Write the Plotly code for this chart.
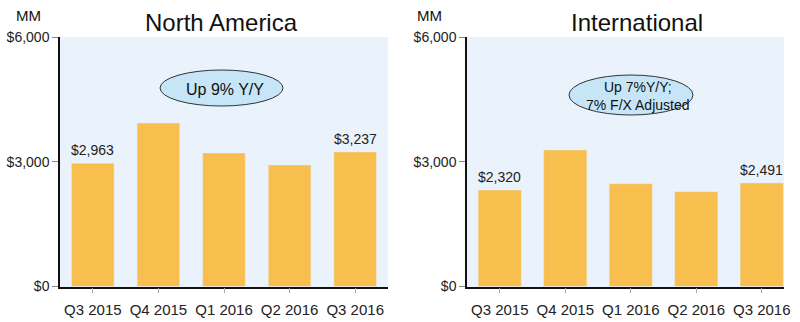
import plotly.graph_objects as go

quarters = ["Q3 2015", "Q4 2015", "Q1 2016", "Q2 2016", "Q3 2016"]
north_america = [2963, 3932, 3210, 2922, 3237]
international = [2320, 3283, 2472, 2280, 2491]
labelled = [0, 4]  # quarters whose values are printed above the bar
y_ticks = [0, 3000, 6000]
y_tick_text = ["$0", "$3,000", "$6,000"]

BAR = "#F8BF4F"
BG = "#EAF2FC"
FONT = "Liberation Sans, Arial, sans-serif"
W, H = 800, 322

fig = go.Figure()
fig.add_trace(go.Bar(x=quarters, y=north_america, marker_color=BAR, width=0.65,
                     xaxis="x", yaxis="y", hoverinfo="skip"))
fig.add_trace(go.Bar(x=quarters, y=international, marker_color=BAR, width=0.66,
                     xaxis="x2", yaxis="y2", hoverinfo="skip"))

ydom = [1 - 286.5 / H, 1 - 37 / H]
common_y = dict(range=[0, 6000], tickvals=y_ticks, ticktext=y_tick_text,
                showgrid=False, zeroline=False, showline=True, linecolor="#111",
                linewidth=1.5, ticks="outside", ticklen=6, tickcolor="#888",
                tickfont=dict(size=14, color="#222", family=FONT), domain=ydom,
                fixedrange=True, automargin=False)
common_x = dict(type="category", showgrid=False, showline=True, linecolor="#111",
                linewidth=1.5, ticks="outside", ticklen=5, tickcolor="#aaa",
                tickfont=dict(size=15, color="#222", family=FONT), fixedrange=True,
                ticklabelstandoff=4, automargin=False)

xdom1 = [60 / W, 388 / W]
xdom2 = [467 / W, 784 / W]

fig.update_layout(
    width=W, height=H, margin=dict(l=0, r=0, t=0, b=0, autoexpand=False),
    paper_bgcolor="white", showlegend=False,
    font=dict(family=FONT, color="#111"),
    xaxis=dict(common_x, domain=xdom1, range=[-0.5, 4.5], anchor="y"),
    yaxis=dict(common_y, anchor="x"),
    xaxis2=dict(common_x, domain=xdom2, range=[-0.5, 4.34], anchor="y2"),
    yaxis2=dict(common_y, anchor="x2"),
)

# plot-area backgrounds
for xd in (xdom1, xdom2):
    fig.add_shape(type="rect", xref="paper", yref="paper", x0=xd[0], x1=xd[1],
                  y0=ydom[0], y1=ydom[1], fillcolor=BG, line_width=0, layer="below")


def px_note(x, y, text, size):
    return dict(xref="paper", yref="paper", x=x / W, y=1 - y / H, text=text,
                showarrow=False, xanchor="center", yanchor="middle",
                font=dict(size=size, color="#111"))


anns = [
    px_note(221, 22, "North America", 24),
    px_note(637, 22, "International", 24),
    px_note(29, 16, "MM", 15),
    px_note(429, 16, "MM", 15),
]

# value labels above selected bars
for series, xa, ya in ((north_america, "x", "y"), (international, "x2", "y2")):
    for i in labelled:
        anns.append(dict(x=quarters[i], y=series[i], xref=xa, yref=ya,
                         text=f"${series[i]:,}", showarrow=False, yanchor="bottom",
                         xanchor="center", yshift=3, font=dict(size=14, color="#222")))

# callout ellipses
fig.add_shape(type="circle", xref="paper", yref="paper",
              x0=160 / W, x1=283 / W, y0=1 - 106 / H, y1=1 - 70 / H,
              fillcolor="#C6E6F8", line=dict(color="#333", width=1))
fig.add_shape(type="circle", xref="paper", yref="paper",
              x0=569 / W, x1=693 / W, y0=1 - 115 / H, y1=1 - 75 / H,
              fillcolor="#C6E6F8", line=dict(color="#333", width=1))
anns.append(px_note(225, 89, "Up 9% Y/Y", 16))
anns.append(px_note(638, 96, "Up 7%Y/Y;<br>7% F/X Adjusted", 14))

fig.update_layout(annotations=anns)
fig.write_html("out.html")
